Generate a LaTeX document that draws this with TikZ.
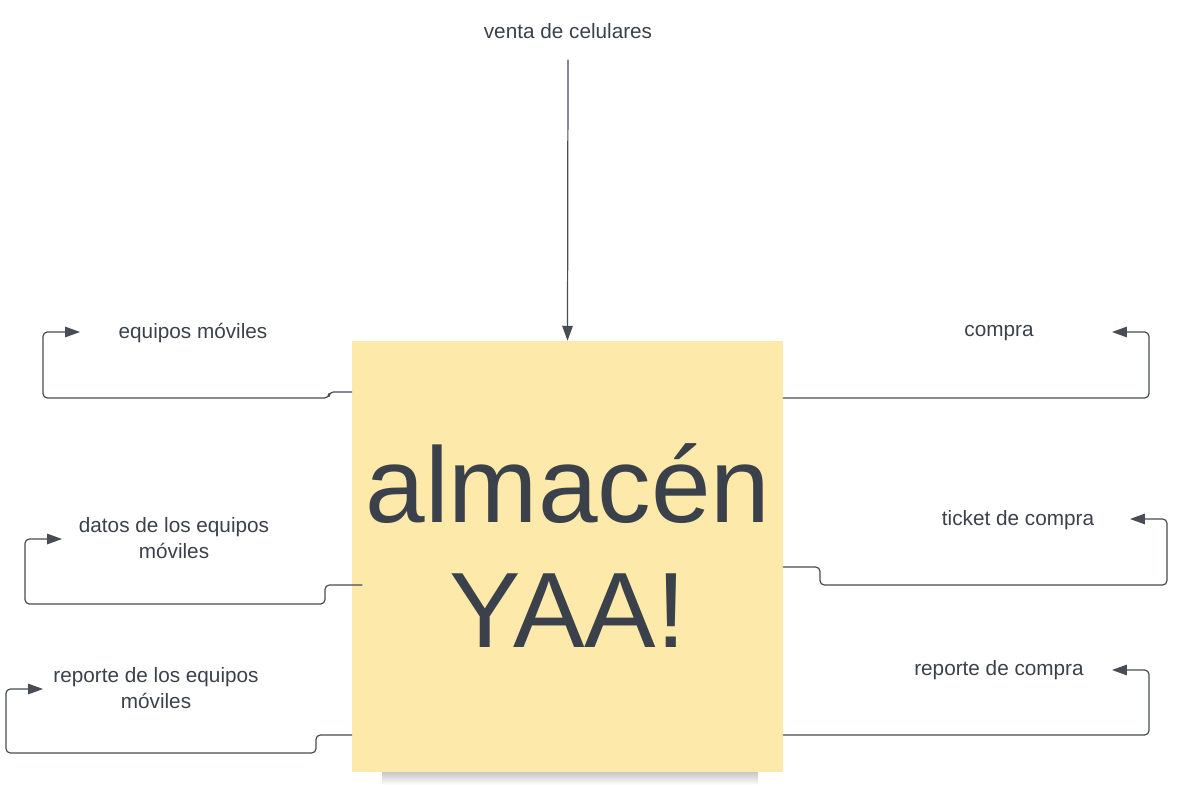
\documentclass[tikz,border=0pt]{standalone}
\usepackage{fontspec}
\setmainfont{Liberation Sans}
\usetikzlibrary{arrows.meta}
\usetikzlibrary{positioning}

\definecolor{txtgray}{HTML}{3A414A}
\definecolor{linegray}{HTML}{474C55}
\definecolor{notecol}{HTML}{FDE9A9}

\tikzset{
  flow/.style={draw=linegray,line width=0.7pt,rounded corners=2.5pt},
  lbl/.style={text=txtgray,font=\fontsize{11.8}{14.4}\selectfont,align=center,inner sep=0pt},
  note/.style={fill=notecol,minimum width=8.62cm,minimum height=8.62cm,inner sep=0pt},
  bigtxt/.style={text=txtgray,font=\fontsize{61}{72}\selectfont}
}

\begin{document}
\begin{tikzpicture}[line cap=round,line join=round,>={Triangle[length=8.5pt,width=6pt]},x=0.02cm,y=0.02cm]
\useasboundingbox (0,0) rectangle (1179,785);
% shadow under the note
\shade[top color=black!22,bottom color=white] (382,0) rectangle (758,13);
\node[note] (alm) at (567.5,228.5) {};
\node[bigtxt] (almt) at (568,301) {almacén};
\node[bigtxt] (yaa) at (568,174) {YAA!};

% labels
\node[lbl] (venta) at (568,754) {venta de celulares};
\node[lbl] (equipos) at (193,452) {equipos móviles};
\node[lbl] (datos) at (174,247) {datos de los equipos\\móviles};
\node[lbl] (repeq) at (156,97) {reporte de los equipos\\móviles};
\node[lbl] (compra) at (999,452) {compra};
\node[lbl] (ticket) at (1018,265) {ticket de compra};
\node[lbl] (repco) at (999,115) {reporte de compra};

% arrow ends
\coordinate (ventaS) at (568,725);
\coordinate (eqT) at (80,453);
\coordinate (daT) at (62,246);
\coordinate (reT) at (43,96);
\coordinate (coT) at (1112,453);
\coordinate (tiT) at (1130,266);
\coordinate (rcT) at (1112,115);

% connectors
\draw[flow,->] (ventaS) -- (alm.north);
\draw[flow,->] (alm.west |- 0,393) -- (329,393) -- (329,387) -- (43,387) -- (43,453) -- (eqT);
\draw[flow,->] (362,200) -- (325,200) -- (325,181) -- (25,181) -- (25,246) -- (daT);
\draw[flow,->] (alm.west |- 0,50) -- (316,50) -- (316,32) -- (6,32) -- (6,96) -- (reT);
\draw[flow,->] (alm.east |- 0,387) -- (1149,387) -- (1149,453) -- (coT);
\draw[flow,->] (alm.east |- 0,218) -- (820,218) -- (820,200) -- (1167,200) -- (1167,266) -- (tiT);
\draw[flow,->] (alm.east |- 0,50) -- (1149,50) -- (1149,115) -- (rcT);
\end{tikzpicture}
\end{document}
